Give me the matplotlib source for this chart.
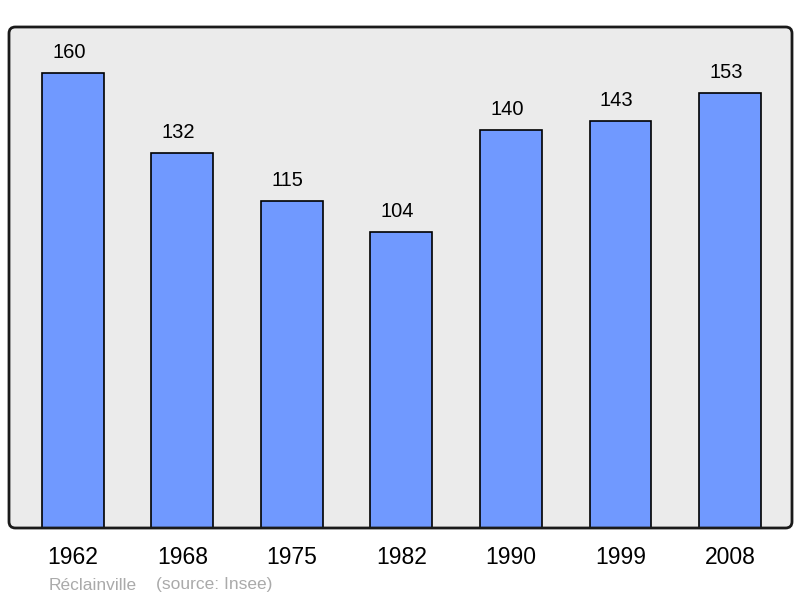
import matplotlib.pyplot as plt
from matplotlib.patches import FancyBboxPatch

plt.rcParams['font.family'] = ['Liberation Sans', 'DejaVu Sans']

# données
years = ["1962", "1968", "1975", "1982", "1990", "1999", "2008"]
population = [160, 132, 115, 104, 140, 143, 153]
commune = "Réclainville"
source = "(source: Insee)"

fig = plt.figure(figsize=(8, 5.98), dpi=100)
ax = fig.add_axes([9 / 800, 70 / 598, 783 / 800, 501 / 598])
ax.set_facecolor("none")
ax.set_zorder(1)

# fond + cadre arrondi
box = dict(boxstyle="round,pad=0,rounding_size=0.008",
           mutation_aspect=800 / 598, transform=fig.transFigure)
fig.patches.append(FancyBboxPatch((9 / 800, 70 / 598), 783 / 800, 501 / 598,
                                  facecolor="#ebebeb", edgecolor="none",
                                  zorder=0, **box))
fig.patches.append(FancyBboxPatch((9 / 800, 70 / 598), 783 / 800, 501 / 598,
                                  facecolor="none", edgecolor="#1a1a1a",
                                  linewidth=2, zorder=5, **box))

x = range(len(years))
bars = ax.bar(x, population, width=0.566, color="#7099ff",
              edgecolor="black", linewidth=1.2, zorder=2)

for xi, v in zip(x, population):
    ax.annotate(str(v), (xi, v), xytext=(-3, 8), textcoords="offset points",
                ha="center", va="bottom", fontsize=14.5)

ax.set_xlim(-0.584, 6.566)
ax.set_ylim(0, 176.2)
ax.set_xticks(list(x))
ax.set_xticklabels(years, fontsize=16.5)
ax.tick_params(axis="x", length=0, pad=13)
ax.set_yticks([])
for s in ax.spines.values():
    s.set_visible(False)

fig.text(49 / 800, 1 - 585 / 598, commune, color="#aaaaaa", fontsize=12.5,
         va="center", ha="left")
fig.text(156 / 800, 1 - 585 / 598, source, color="#aaaaaa", fontsize=12.5,
         va="center", ha="left")

fig.savefig("out.png", dpi=100)
